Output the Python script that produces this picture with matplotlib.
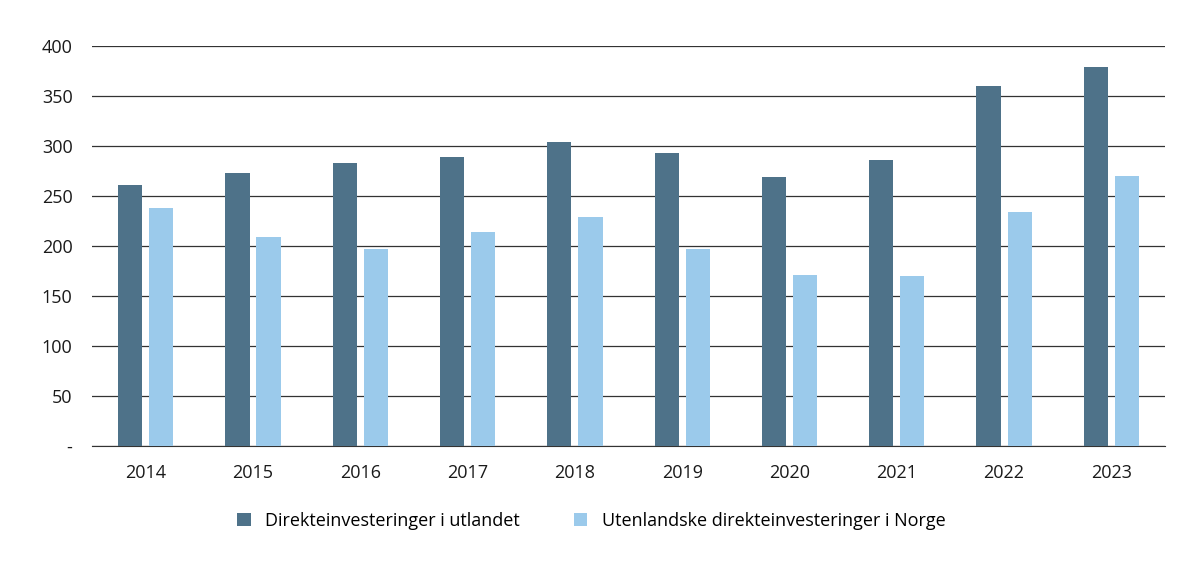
import matplotlib
matplotlib.use("Agg")
import matplotlib.pyplot as plt
import numpy as np

years = ['2014', '2015', '2016', '2017', '2018', '2019', '2020', '2021', '2022', '2023']
utlandet = [261, 273, 283, 289, 304, 293, 269, 286, 360, 379]
norge = [238, 209, 197, 214, 229, 197, 171, 170, 234, 270]
y_ticks = [0, 50, 100, 150, 200, 250, 300, 350, 400]
y_labels = ['-', '50', '100', '150', '200', '250', '300', '350', '400']

plt.rcParams['font.family'] = ['Open Sans', 'DejaVu Sans']

fig = plt.figure(figsize=(12, 5.68), dpi=100)
ax = fig.add_axes([0.0767, 0.215, 0.8942, 0.704])

x = np.arange(len(years))
w = 0.225
ax.bar(x - 0.145, utlandet, w, color='#4e7289', label='Direkteinvesteringer i utlandet', zorder=3)
ax.bar(x + 0.145, norge, w, color='#9bcaeb', label='Utenlandske direkteinvesteringer i Norge', zorder=3)

ax.set_xlim(-0.5, len(years) - 0.5)
ax.set_ylim(0, 400)
ax.set_yticks(y_ticks)
ax.set_yticklabels(y_labels)
ax.set_xticks(x)
ax.set_xticklabels(years)
ax.grid(axis='y', color='#333333', linewidth=0.9, zorder=0)
for s in ['top', 'right', 'left']:
    ax.spines[s].set_visible(False)
ax.spines['bottom'].set_color('#333333')
ax.tick_params(axis='both', length=0, labelsize=13, colors='#1a1a1a')
ax.tick_params(axis='y', pad=14)
ax.tick_params(axis='x', pad=13)

ax.legend(loc='upper left', bbox_to_anchor=(0.12, -0.125), ncol=2, frameon=False,
          fontsize=13, handlelength=0.75, handleheight=0.75, columnspacing=3.0, handletextpad=0.8)

fig.savefig('out.png', dpi=100)
